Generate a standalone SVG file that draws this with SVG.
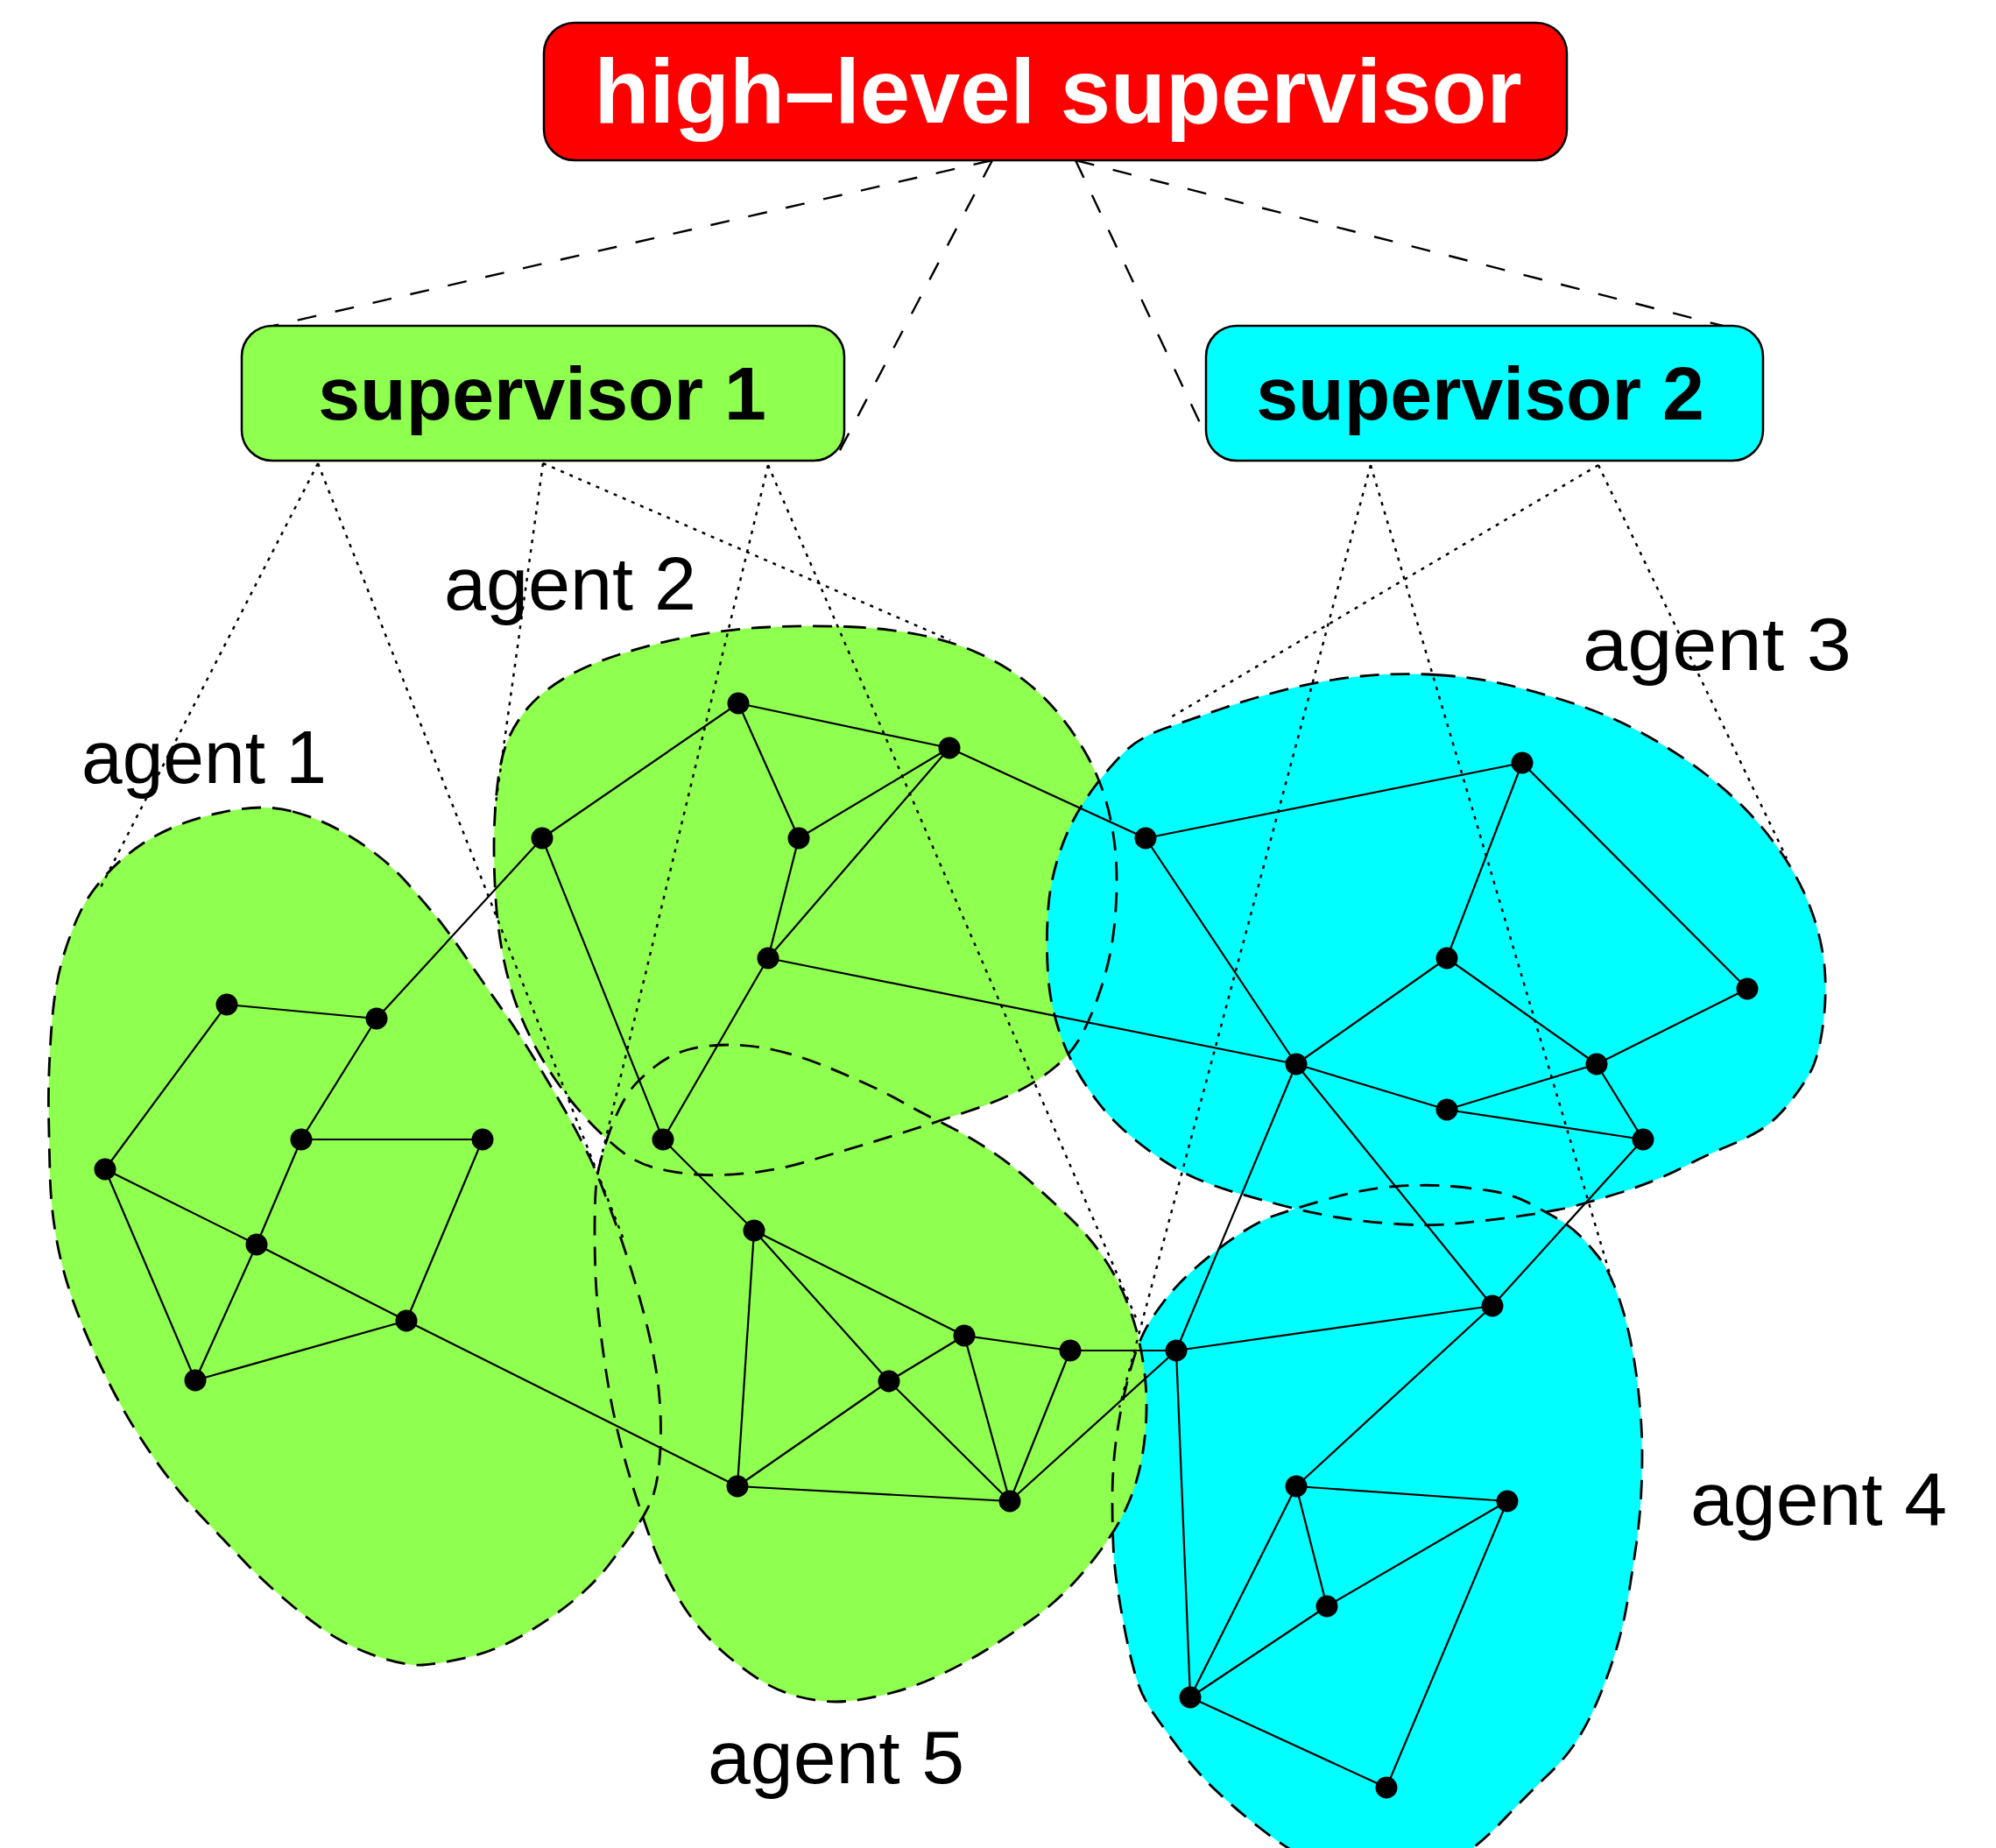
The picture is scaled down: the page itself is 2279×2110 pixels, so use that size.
<svg xmlns="http://www.w3.org/2000/svg" xmlns:xlink="http://www.w3.org/1999/xlink" width="2279" height="2110" viewBox="0 0 2279 2110">
<style>
.fg{fill:#8FFF50}
.fc{fill:#00FFFF}
.ol{fill:none;stroke:#000;stroke-width:2.8;stroke-dasharray:22 13}
.hl{fill:none;stroke:#000;stroke-width:2.4;stroke-dasharray:22 22}
.dt{fill:none;stroke:#000;stroke-width:2.5;stroke-dasharray:4 7}
.e{stroke:#000;stroke-width:2.2}
.v{fill:#000}
.box{stroke:#000;stroke-width:2.5}
.lbl{font-family:"Liberation Sans",Arial,Helvetica,sans-serif;font-size:86px;fill:#000}
.bt{font-family:"Liberation Sans",Arial,Helvetica,sans-serif;font-weight:bold;text-anchor:middle}
</style>
<defs>
<path id="b1" d="M 334,926.5 Q 362,934 385,946.5 Q 408,959 428.5,974.5 Q 449,990 467,1010.5 Q 485,1031 497.5,1046 Q 510,1061 533,1094.5 Q 556,1128 574,1153.5 Q 592,1179 615,1217 Q 638,1255 650.5,1277.5 Q 663,1300 673.5,1322 Q 684,1344 704,1400 Q 724,1456 737,1507 Q 750,1558 753,1596.5 Q 756,1635 753,1667.5 Q 750,1700 742.5,1716 Q 735,1732 724.5,1747 Q 714,1762 696.5,1785 Q 679,1808 653.5,1828.5 Q 628,1849 597,1867 Q 566,1885 533,1892.5 Q 500,1900 482.5,1901 Q 465,1902 437.5,1893.5 Q 410,1885 386.5,1871.5 Q 363,1858 331.5,1831.5 Q 300,1805 281,1785 Q 262,1765 231,1732.5 Q 200,1700 172.5,1660 Q 145,1620 122.5,1575 Q 100,1530 86,1492.5 Q 72,1455 65,1417.5 Q 58,1380 57,1340 Q 56,1300 55.5,1270 Q 55,1240 57,1201.5 Q 59,1163 62.5,1137.5 Q 66,1112 74,1086.5 Q 82,1061 92,1040.5 Q 102,1020 120,1000 Q 138,980 161,964.5 Q 184,949 212,939 Q 240,929 273,924 Q 306,919 334,926.5 Z"/>
<path id="b2" d="M 966.5,715.5 Q 1010,717 1048.5,724.5 Q 1087,732 1117.5,746 Q 1148,760 1171,778 Q 1194,796 1212,819 Q 1230,842 1242.5,865 Q 1255,888 1262.5,913.5 Q 1270,939 1273,967 Q 1276,995 1274.5,1028 Q 1273,1061 1268,1086.5 Q 1263,1112 1254,1137.5 Q 1245,1163 1234.5,1182.5 Q 1224,1202 1205,1218 Q 1186,1234 1162,1246 Q 1138,1258 1105,1269 Q 1072,1280 1041,1290 Q 1010,1300 979.5,1309 Q 949,1318 918.5,1327 Q 888,1336 854,1339.5 Q 820,1343 795,1341 Q 770,1339 750,1334 Q 730,1329 715,1318.5 Q 700,1308 680,1288 Q 660,1268 644,1246.5 Q 628,1225 615,1202 Q 602,1179 592,1153.5 Q 582,1128 575.5,1097 Q 569,1066 566.5,1033 Q 564,1000 564,967 Q 564,934 567.5,900.5 Q 571,867 579,847 Q 587,827 602,809 Q 617,791 642.5,775.5 Q 668,760 706.5,747.5 Q 745,735 788.5,726.5 Q 832,718 877.5,716 Q 923,714 966.5,715.5 Z"/>
<path id="b3" d="M 1639.5,770.5 Q 1683,773 1721,782 Q 1759,791 1797.5,803.5 Q 1836,816 1874,836.5 Q 1912,857 1945.5,882.5 Q 1979,908 2002,933.5 Q 2025,959 2042.5,987 Q 2060,1015 2070.5,1046 Q 2081,1077 2083.5,1107.5 Q 2086,1138 2081,1173.5 Q 2076,1209 2065.5,1227 Q 2055,1245 2040,1263 Q 2025,1281 2009.5,1290.5 Q 1994,1300 1972,1309 Q 1950,1318 1920,1333.5 Q 1890,1349 1849,1362 Q 1808,1375 1785,1380 Q 1762,1385 1724,1390 Q 1686,1395 1658,1397.5 Q 1630,1400 1594,1397.5 Q 1558,1395 1527.5,1390 Q 1497,1385 1466.5,1377 Q 1436,1369 1410.5,1361.5 Q 1385,1354 1364.5,1345 Q 1344,1336 1323.5,1322 Q 1303,1308 1285,1292 Q 1267,1276 1252.5,1257 Q 1238,1238 1226.5,1217 Q 1215,1196 1208,1173 Q 1201,1150 1198.5,1131 Q 1196,1112 1195.5,1086.5 Q 1195,1061 1197,1035.5 Q 1199,1010 1206.5,984.5 Q 1214,959 1224.5,938.5 Q 1235,918 1250,898 Q 1265,878 1282.5,860 Q 1300,842 1330.5,831.5 Q 1361,821 1397,808.5 Q 1433,796 1473.5,786 Q 1514,776 1555,772 Q 1596,768 1639.5,770.5 Z"/>
<path id="b4" d="M 1658,1354.5 Q 1686,1357 1706.5,1360.5 Q 1727,1364 1744.5,1373 Q 1762,1382 1777.5,1391 Q 1793,1400 1803,1410 Q 1813,1420 1823.5,1433 Q 1834,1446 1841.5,1464 Q 1849,1482 1854,1499.5 Q 1859,1517 1863,1537.5 Q 1867,1558 1869.5,1578.5 Q 1872,1599 1873.5,1619.5 Q 1875,1640 1875,1663 Q 1875,1686 1873.5,1711.5 Q 1872,1737 1868,1765 Q 1864,1793 1859,1823.5 Q 1854,1854 1846.5,1879.5 Q 1839,1905 1828,1932.5 Q 1817,1960 1803.5,1982.5 Q 1790,2005 1767,2027 Q 1744,2049 1715,2079.5 Q 1686,2110 1653,2130 Q 1620,2150 1580,2150 Q 1540,2150 1504,2130 Q 1468,2110 1439,2087.5 Q 1410,2065 1388,2044 Q 1366,2023 1348,1999 Q 1330,1975 1316.5,1955.5 Q 1303,1936 1296.5,1913 Q 1290,1890 1285,1864.5 Q 1280,1839 1276,1813.5 Q 1272,1788 1271,1762.5 Q 1270,1737 1270,1711.5 Q 1270,1686 1272.5,1660.5 Q 1275,1635 1280,1609.5 Q 1285,1584 1291.5,1561 Q 1298,1538 1305.5,1522.5 Q 1313,1507 1328.5,1486.5 Q 1344,1466 1367,1446 Q 1390,1426 1413,1410.5 Q 1436,1395 1453.5,1388.5 Q 1471,1382 1514.5,1369.5 Q 1558,1357 1594,1354.5 Q 1630,1352 1658,1354.5 Z"/>
<path id="b5" d="M 882.5,1198.5 Q 908,1204 933.5,1214 Q 959,1224 984.5,1235.5 Q 1010,1247 1030.5,1258.5 Q 1051,1270 1076.5,1282.5 Q 1102,1295 1127.5,1311.5 Q 1153,1328 1176.5,1349 Q 1200,1370 1220,1389 Q 1240,1408 1255,1428.5 Q 1270,1449 1281,1473 Q 1292,1497 1298.5,1522.5 Q 1305,1548 1307.5,1573.5 Q 1310,1599 1308.5,1624.5 Q 1307,1650 1302,1673.5 Q 1297,1697 1287,1719.5 Q 1277,1742 1258.5,1767.5 Q 1240,1793 1220,1813.5 Q 1200,1834 1175,1851.5 Q 1150,1869 1125,1884.5 Q 1100,1900 1070,1914 Q 1040,1928 1007.5,1935.5 Q 975,1943 954.5,1943 Q 934,1943 911,1937 Q 888,1931 867.5,1918 Q 847,1905 826.5,1887 Q 806,1869 791,1849 Q 776,1829 763,1803.5 Q 750,1778 740,1749.5 Q 730,1721 722,1695.5 Q 714,1670 706.5,1639.5 Q 699,1609 694,1578.5 Q 689,1548 685,1515 Q 681,1482 680,1456.5 Q 679,1431 679,1405.5 Q 679,1380 680,1362 Q 681,1344 685,1328.5 Q 689,1313 694,1298 Q 699,1283 706.5,1267.5 Q 714,1252 722,1242 Q 730,1232 747.5,1218 Q 765,1204 785.5,1198.5 Q 806,1193 831.5,1193 Q 857,1193 882.5,1198.5 Z"/>
</defs>
<rect width="2279" height="2110" fill="#fff"/>
<g id="agent-regions">
<use href="#b4" xlink:href="#b4" class="fc"/>
<use href="#b2" xlink:href="#b2" class="fg"/>
<use href="#b1" xlink:href="#b1" class="fg"/>
<use href="#b5" xlink:href="#b5" class="fg"/>
<use href="#b3" xlink:href="#b3" class="fc"/>
</g>
<g id="agent-region-outlines">
<use href="#b4" xlink:href="#b4" class="ol"/>
<use href="#b2" xlink:href="#b2" class="ol"/>
<use href="#b1" xlink:href="#b1" class="ol"/>
<use href="#b5" xlink:href="#b5" class="ol"/>
<use href="#b3" xlink:href="#b3" class="ol"/>
</g>
<g id="agent-labels">
<text class="lbl" x="93" y="894" textLength="280" lengthAdjust="spacingAndGlyphs">agent 1</text>
<text class="lbl" x="507" y="696" textLength="288" lengthAdjust="spacingAndGlyphs">agent 2</text>
<text class="lbl" x="1807" y="765" textLength="307" lengthAdjust="spacingAndGlyphs">agent 3</text>
<text class="lbl" x="1930" y="1741" textLength="293" lengthAdjust="spacingAndGlyphs">agent 4</text>
<text class="lbl" x="808" y="2036" textLength="293" lengthAdjust="spacingAndGlyphs">agent 5</text>
</g>
<g id="connectors">
<g id="supervision-links">
<line class="hl" x1="1133" y1="183" x2="312" y2="372"/>
<line class="hl" x1="1133" y1="183" x2="958" y2="516"/>
<line class="hl" x1="1228" y1="183" x2="1383" y2="510"/>
<line class="hl" x1="1228" y1="183" x2="1967" y2="372"/>
<line class="dt" x1="363" y1="529" x2="115" y2="1013"/>
<line class="dt" x1="363" y1="529" x2="712" y2="1415"/>
<line class="dt" x1="620" y1="529" x2="565" y2="925"/>
<line class="dt" x1="620" y1="529" x2="1085" y2="731"/>
<line class="dt" x1="877" y1="531" x2="682" y2="1340"/>
<line class="dt" x1="877" y1="531" x2="1298" y2="1507"/>
<line class="dt" x1="1565" y1="531" x2="1278" y2="1607"/>
<line class="dt" x1="1565" y1="531" x2="1842" y2="1468"/>
<line class="dt" x1="1825" y1="531" x2="1335" y2="820"/>
<line class="dt" x1="1825" y1="531" x2="2040" y2="980"/>
</g>
<g id="graph-edges" class="e">
<line x1="259" y1="1147" x2="430" y2="1163"/>
<line x1="259" y1="1147" x2="120" y2="1335"/>
<line x1="430" y1="1163" x2="344" y2="1301"/>
<line x1="430" y1="1163" x2="619" y2="957"/>
<line x1="344" y1="1301" x2="551" y2="1301"/>
<line x1="344" y1="1301" x2="293" y2="1421"/>
<line x1="551" y1="1301" x2="464" y2="1508"/>
<line x1="120" y1="1335" x2="293" y2="1421"/>
<line x1="120" y1="1335" x2="223" y2="1576"/>
<line x1="293" y1="1421" x2="223" y2="1576"/>
<line x1="293" y1="1421" x2="464" y2="1508"/>
<line x1="223" y1="1576" x2="464" y2="1508"/>
<line x1="464" y1="1508" x2="842" y2="1697"/>
<line x1="619" y1="957" x2="843" y2="803"/>
<line x1="619" y1="957" x2="757" y2="1301"/>
<line x1="843" y1="803" x2="1084" y2="854"/>
<line x1="843" y1="803" x2="912" y2="957"/>
<line x1="912" y1="957" x2="1084" y2="854"/>
<line x1="912" y1="957" x2="877" y2="1094"/>
<line x1="1084" y1="854" x2="877" y2="1094"/>
<line x1="1084" y1="854" x2="1308" y2="957"/>
<line x1="877" y1="1094" x2="1480" y2="1215"/>
<line x1="877" y1="1094" x2="757" y2="1301"/>
<line x1="757" y1="1301" x2="861" y2="1405"/>
<line x1="1308" y1="957" x2="1738" y2="871"/>
<line x1="1308" y1="957" x2="1480" y2="1215"/>
<line x1="1738" y1="871" x2="1652" y2="1094"/>
<line x1="1738" y1="871" x2="1995" y2="1129"/>
<line x1="1652" y1="1094" x2="1480" y2="1215"/>
<line x1="1652" y1="1094" x2="1823" y2="1215"/>
<line x1="1995" y1="1129" x2="1823" y2="1215"/>
<line x1="1480" y1="1215" x2="1652" y2="1267"/>
<line x1="1652" y1="1267" x2="1823" y2="1215"/>
<line x1="1652" y1="1267" x2="1876" y2="1301"/>
<line x1="1823" y1="1215" x2="1876" y2="1301"/>
<line x1="1876" y1="1301" x2="1704" y2="1491"/>
<line x1="1480" y1="1215" x2="1704" y2="1491"/>
<line x1="1480" y1="1215" x2="1343" y2="1542"/>
<line x1="861" y1="1405" x2="1101" y2="1525"/>
<line x1="861" y1="1405" x2="1015" y2="1577"/>
<line x1="861" y1="1405" x2="842" y2="1697"/>
<line x1="1101" y1="1525" x2="1222" y2="1542"/>
<line x1="1101" y1="1525" x2="1015" y2="1577"/>
<line x1="1101" y1="1525" x2="1153" y2="1714"/>
<line x1="1015" y1="1577" x2="1153" y2="1714"/>
<line x1="842" y1="1697" x2="1015" y2="1577"/>
<line x1="842" y1="1697" x2="1153" y2="1714"/>
<line x1="1222" y1="1542" x2="1153" y2="1714"/>
<line x1="1222" y1="1542" x2="1343" y2="1542"/>
<line x1="1153" y1="1714" x2="1343" y2="1542"/>
<line x1="1343" y1="1542" x2="1704" y2="1491"/>
<line x1="1343" y1="1542" x2="1359" y2="1938"/>
<line x1="1704" y1="1491" x2="1480" y2="1697"/>
<line x1="1480" y1="1697" x2="1721" y2="1714"/>
<line x1="1480" y1="1697" x2="1515" y2="1834"/>
<line x1="1480" y1="1697" x2="1359" y2="1938"/>
<line x1="1721" y1="1714" x2="1515" y2="1834"/>
<line x1="1515" y1="1834" x2="1359" y2="1938"/>
<line x1="1359" y1="1938" x2="1583" y2="2041"/>
<line x1="1721" y1="1714" x2="1583" y2="2041"/>
</g>
</g>
<g id="agent-1" class="v">
<circle cx="259" cy="1147" r="12.5"/><circle cx="430" cy="1163" r="12.5"/><circle cx="120" cy="1335" r="12.5"/><circle cx="344" cy="1301" r="12.5"/><circle cx="551" cy="1301" r="12.5"/><circle cx="293" cy="1421" r="12.5"/><circle cx="464" cy="1508" r="12.5"/><circle cx="223" cy="1576" r="12.5"/>
</g>
<g id="agent-2" class="v">
<circle cx="619" cy="957" r="12.5"/><circle cx="843" cy="803" r="12.5"/><circle cx="1084" cy="854" r="12.5"/><circle cx="912" cy="957" r="12.5"/><circle cx="877" cy="1094" r="12.5"/><circle cx="757" cy="1301" r="12.5"/>
</g>
<g id="agent-3" class="v">
<circle cx="1308" cy="957" r="12.5"/><circle cx="1738" cy="871" r="12.5"/><circle cx="1652" cy="1094" r="12.5"/><circle cx="1995" cy="1129" r="12.5"/><circle cx="1480" cy="1215" r="12.5"/><circle cx="1823" cy="1215" r="12.5"/><circle cx="1652" cy="1267" r="12.5"/><circle cx="1876" cy="1301" r="12.5"/>
</g>
<g id="agent-5" class="v">
<circle cx="861" cy="1405" r="12.5"/><circle cx="1101" cy="1525" r="12.5"/><circle cx="1222" cy="1542" r="12.5"/><circle cx="1015" cy="1577" r="12.5"/><circle cx="842" cy="1697" r="12.5"/><circle cx="1153" cy="1714" r="12.5"/>
</g>
<g id="agent-4" class="v">
<circle cx="1343" cy="1542" r="12.5"/><circle cx="1704" cy="1491" r="12.5"/><circle cx="1480" cy="1697" r="12.5"/><circle cx="1721" cy="1714" r="12.5"/><circle cx="1515" cy="1834" r="12.5"/><circle cx="1359" cy="1938" r="12.5"/><circle cx="1583" cy="2041" r="12.5"/>
</g>
<g id="high-level-supervisor">
<rect class="box" x="621" y="26" width="1168" height="157" rx="35" ry="35" fill="#FF0000"/>
<text class="bt" x="1208" y="140" font-size="103" fill="#FFFFFF">high–level supervisor</text>
</g>
<g id="supervisor-1">
<rect class="box" x="276" y="372" width="688" height="154" rx="35" ry="35" fill="#8FFF50"/>
<text class="bt" x="619" y="479" font-size="86" fill="#000">supervisor 1</text>
</g>
<g id="supervisor-2">
<rect class="box" x="1377" y="372" width="636" height="154" rx="35" ry="35" fill="#00FFFF"/>
<text class="bt" x="1690" y="479" font-size="86" fill="#000">supervisor 2</text>
</g>
</svg>
